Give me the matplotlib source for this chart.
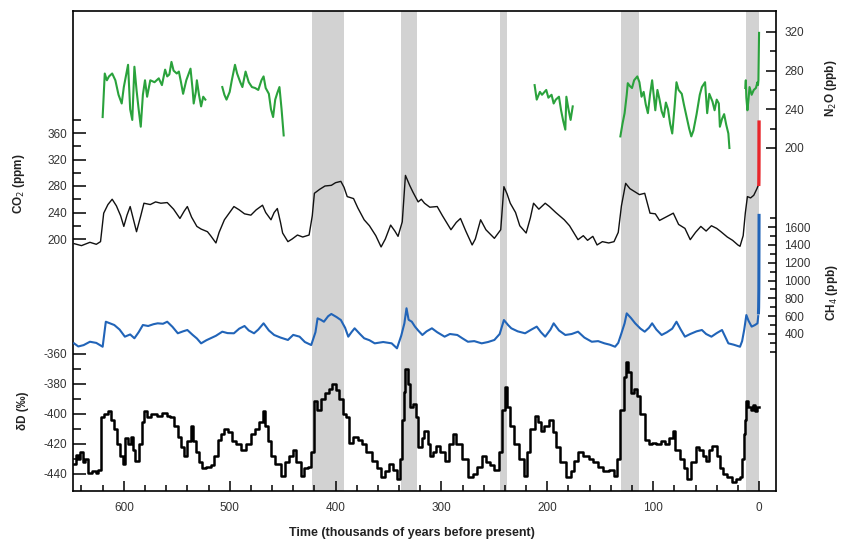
import numpy as np
import matplotlib.pyplot as plt
from matplotlib.ticker import FixedLocator, FixedFormatter, NullFormatter

plt.rcParams['font.family'] = ['Liberation Sans', 'DejaVu Sans']

# Interglacial periods (kyr BP, start/end)
interglacials = [(422, 392), (338, 323), (245, 238), (130, 113), (12.6, 0)]

# CO2 from ice cores (kyr BP, ppm)
co2_age = [647, 640, 632, 626, 622, 619, 615, 611, 607, 603, 600, 597, 594, 591, 588,
           584, 581, 575, 570, 565, 559, 553, 547, 543, 540, 536, 531, 527, 521, 518,
           513, 510, 505, 500, 496, 491, 486, 480, 475, 469, 466, 461, 458, 455, 452,
           450, 445, 441, 436, 431, 425, 422, 420, 415, 410, 404, 400, 395, 392, 389,
           383, 379, 373, 368, 362, 357, 353, 348, 344, 341, 337, 334, 330, 327, 322,
           319, 316, 311, 304, 299, 291, 286, 282, 277, 271, 268, 263, 258, 250, 244,
           241, 238, 235, 230, 226, 220, 216, 213, 208, 202, 198, 192, 184, 179, 171,
           166, 162, 157, 153, 148, 142, 137, 133, 130, 126, 122, 118, 113, 108, 103,
           98, 94, 88, 81, 76, 70, 65, 60, 55, 50, 45, 40, 36, 30, 25,
           20, 18, 15, 13, 11, 8, 5, 2, 1]
co2_ppm = [193, 190, 195, 192, 196, 239, 252, 260, 250, 235, 219, 236, 249, 230, 211,
           235, 254, 252, 256, 254, 255, 245, 231, 242, 249, 233, 219, 215, 211, 205,
           194, 210, 229, 240, 249, 244, 238, 236, 244, 251, 240, 229, 240, 246, 225,
           209, 196, 200, 206, 203, 206, 235, 269, 275, 280, 281, 285, 287, 278, 264,
           261, 247, 229, 220, 205, 188, 200, 221, 212, 204, 226, 296, 281, 271, 256,
           260, 254, 248, 249, 235, 214, 225, 231, 212, 191, 200, 229, 214, 201, 214,
           279, 268, 254, 240, 220, 209, 232, 254, 245, 254, 249, 240, 229, 220, 199,
           205, 198, 204, 191, 196, 194, 196, 210, 250, 284, 276, 272, 267, 269, 239,
           238, 228, 233, 239, 222, 216, 199, 210, 219, 212, 220, 216, 211, 203, 198,
           191, 189, 205, 239, 264, 262, 266, 276, 280]

# Recent CO2 (atmospheric / firn)
co2_recent_age = [0.3, 0.2, 0.12, 0.06, 0.0]
co2_recent_ppm = [280, 285, 300, 330, 379]

# CH4 from ice cores (kyr BP, ppb)
ch4_age = [647, 643, 638, 632, 626, 620, 617, 613, 609, 604, 599, 594, 590, 586, 582,
           577, 572, 568, 563, 559, 554, 549, 544, 540, 535, 531, 527, 522, 518, 513,
           507, 502, 496, 491, 486, 482, 477, 473, 468, 463, 458, 452, 445, 440, 434,
           429, 423, 419, 417, 414, 411, 407, 404, 399, 395, 391, 388, 385, 382, 377,
           373, 368, 363, 355, 347, 342, 338, 335, 333, 331, 328, 325, 322, 318, 314,
           309, 304, 297, 292, 285, 280, 275, 269, 262, 256, 250, 245, 241, 237, 234,
           228, 221, 215, 210, 206, 202, 197, 194, 189, 183, 177, 171, 165, 158, 152,
           146, 141, 136, 133, 130, 127, 125, 121, 117, 112, 108, 104, 101, 97, 92,
           87, 82, 78, 74, 70, 65, 59, 54, 50, 45, 40, 35, 32, 29, 24,
           18, 16, 14, 12, 10, 7, 4, 1.5, 0.8]
ch4_ppb = [295, 260, 275, 313, 300, 257, 538, 520, 501, 450, 370, 395, 352, 420, 501,
           490, 510, 520, 515, 538, 480, 408, 430, 445, 390, 350, 295, 330, 352, 380,
           426, 410, 408, 460, 490, 440, 408, 450, 520, 440, 389, 360, 333, 390, 370,
           310, 276, 420, 576, 560, 538, 600, 625, 590, 557, 470, 370, 420, 464, 400,
           352, 330, 295, 310, 295, 239, 380, 520, 689, 560, 538, 483, 440, 389, 430,
           464, 420, 370, 400, 389, 350, 313, 320, 295, 310, 333, 400, 557, 500, 464,
           430, 408, 450, 483, 420, 370, 450, 520, 440, 389, 400, 426, 360, 313, 320,
           295, 280, 257, 300, 408, 520, 632, 580, 520, 460, 426, 470, 520, 450, 389,
           420, 460, 538, 450, 370, 400, 430, 445, 400, 370, 410, 445, 370, 295, 280,
           257, 320, 450, 613, 550, 483, 500, 520, 600]

ch4_recent_age = [0.6, 0.4, 0.2, 0.1, 0.0]
ch4_recent_ppb = [620, 700, 900, 1300, 1750]

# N2O from ice cores (kyr BP, ppb); gaps where no data
n2o_age = [620, 618, 616, 614, 611, 608, 605, 602, 600, 596, 594, 592, 590, 588, 586,
           584, 582, 580, 578, 575, 571, 567, 564, 561, 559, 557, 555, 553, 550, 548,
           546, 544, 541, 537, 535, 534, 532, 531, 529, 527, 525, 523, np.nan,
           507, 505, 503, 500, 498, 495, 493, 490, 488, 485, 482, 479, 476, 473, 470,
           468, 466, 463, 461, 459, 457, 455, 453, 451, 449, np.nan,
           212, 210, 207, 205, 201, 199, 196, 194, 192, 189, 187, 185, 183, 182, 180,
           178, 176, np.nan,
           131, 129, 127, 125, 124, 122, 120, 118, 115, 113, 111, 109, 107, 105, 103,
           101, 99, 98, 96, 94, 92, 90, 88, 86, 84, 82, 80, 78, 76, 73,
           71, 68, 66, 64, 62, 59, 56, 54, 51, 49, 47, 44, 42, 40, 38,
           37, 35, 33, 31, 29, 28, np.nan,
           13, 12.5, 12, 11, 10, 9, 7, 5, 3, 1.5, 1, 0.6, 0.4, 0.2, 0]
n2o_ppb = [232, 277, 270, 274, 277, 270, 255, 246, 263, 286, 240, 229, 284, 260, 240,
           222, 255, 270, 253, 270, 268, 272, 265, 281, 274, 276, 289, 280, 277, 279,
           268, 256, 270, 282, 260, 246, 258, 270, 255, 243, 253, 250, np.nan,
           263, 255, 250, 258, 270, 286, 277, 268, 263, 279, 268, 263, 262, 260, 270,
           274, 262, 256, 240, 232, 250, 257, 263, 240, 213, np.nan,
           265, 250, 258, 255, 260, 252, 255, 246, 250, 253, 239, 228, 219, 253, 240,
           229, 243, np.nan,
           212, 225, 236, 255, 267, 264, 262, 270, 274, 268, 253, 258, 245, 236, 255,
           270, 250, 239, 260, 250, 238, 232, 247, 240, 225, 215, 240, 268, 260, 256,
           245, 230, 220, 212, 218, 235, 255, 263, 268, 236, 256, 248, 239, 250, 246,
           222, 230, 235, 224, 215, 200, np.nan,
           262, 270, 252, 239, 250, 263, 255, 260, 262, 268, 265, 270, 285, 300, 319]

# Deuterium (kyr BP, per mil)
dd_age = [647, 645, 643, 641, 639, 637, 634, 630, 626, 624, 622, 619, 615, 612, 609,
          606, 604, 601, 599, 596, 593, 591, 589, 586, 583, 581, 578, 574, 569, 564,
          559, 556, 553, 549, 546, 543, 540, 537, 535, 532, 529, 526, 522, 518, 515,
          511, 508, 505, 502, 498, 494, 489, 485, 480, 476, 472, 469, 467, 464, 461,
          457, 452, 448, 444, 440, 437, 433, 430, 426, 423, 420, 418, 414, 410, 406,
          403, 400, 397, 393, 390, 387, 384, 379, 375, 371, 366, 361, 357, 353, 350,
          346, 342, 339, 337, 335, 334, 332, 330, 327, 324, 322, 318, 316, 313, 311,
          308, 305, 301, 297, 293, 289, 286, 281, 275, 270, 266, 262, 258, 254, 250,
          246, 243, 240, 238, 235, 231, 227, 222, 219, 216, 212, 209, 206, 203, 198,
          195, 192, 188, 182, 178, 175, 171, 166, 161, 157, 152, 147, 142, 137, 134,
          131, 128, 126, 124, 121, 118, 115, 112, 108, 104, 101, 97, 93, 89, 85,
          81, 79, 75, 71, 68, 64, 60, 57, 53, 50, 47, 44, 40, 37, 34,
          30, 26, 22, 18, 16, 14, 13, 12, 10, 8, 6, 4, 2, 0]
dd_val = [-433, -427, -430, -425, -432, -430, -439, -438, -439, -437, -402, -400, -398, -404, -410,
          -420, -428, -433, -416, -420, -415, -424, -431, -420, -405, -398, -402, -400, -401, -399,
          -401, -402, -408, -415, -422, -428, -418, -408, -418, -425, -432, -436, -435, -434, -428,
          -417, -413, -410, -412, -418, -420, -424, -420, -413, -410, -405, -398, -408, -418, -428,
          -433, -441, -432, -428, -424, -432, -441, -436, -435, -425, -391, -397, -390, -386, -383,
          -380, -384, -390, -400, -402, -419, -415, -417, -420, -425, -431, -436, -442, -438, -433,
          -437, -443, -430, -404, -385, -370, -380, -395, -393, -402, -422, -416, -411, -420, -428,
          -425, -421, -425, -431, -420, -413, -420, -430, -442, -440, -435, -428, -432, -434, -437,
          -425, -397, -382, -395, -408, -420, -430, -441, -425, -410, -401, -405, -411, -408, -404,
          -412, -422, -432, -442, -438, -431, -425, -428, -430, -432, -435, -438, -437, -441, -430,
          -397, -375, -365, -372, -386, -383, -388, -400, -417, -420, -419, -420, -418, -420, -416,
          -411, -424, -430, -436, -443, -432, -422, -424, -428, -431, -424, -421, -428, -436, -440,
          -442, -445, -443, -442, -430, -413, -404, -391, -395, -397, -394, -398, -395, -395]

# Figure geometry in pixels
W, H = 848, 552
ax_left, ax_right, ax_top, ax_bottom = 73, 776, 11, 491


def fx(px):
    return px / W


def fy(py):
    return 1 - py / H


def ylim_for(v_ref, y_ref, px_per_unit):
    # value range that puts v_ref at pixel row y_ref with given scale
    lo = v_ref - (ax_bottom - y_ref) / px_per_unit
    hi = v_ref + (y_ref - ax_top) / px_per_unit
    return lo, hi


fig = plt.figure(figsize=(W / 100, H / 100), dpi=100)
pos = [fx(ax_left), fy(ax_bottom), fx(ax_right - ax_left), (ax_bottom - ax_top) / H]

ax = fig.add_axes(pos)
ax.set_xlim(648, -16)
ax.set_ylim(0, 1)
ax.set_yticks([])
for s in ax.spines.values():
    s.set_linewidth(1.2)
for a, b in interglacials:
    ax.axvspan(a, b, color='#d2d2d2', lw=0, zorder=0)
ax.xaxis.set_major_locator(FixedLocator(np.arange(0, 601, 100)))
ax.xaxis.set_minor_locator(FixedLocator(np.arange(0, 641, 20)))
ax.tick_params(axis='x', which='major', direction='in', length=7, width=1.1,
               labelsize=8.5, pad=8, labelcolor='#333333')
ax.tick_params(axis='x', which='minor', direction='in', length=4.5, width=1.1)


def overlay(side, lim, major, minor, labels, maj_len, min_len, pad):
    o = fig.add_axes(pos, sharex=ax)
    o.patch.set_visible(False)
    for s in o.spines.values():
        s.set_visible(False)
    o.xaxis.set_visible(False)
    o.set_ylim(*lim)
    o.yaxis.set_ticks_position(side)
    o.yaxis.set_major_locator(FixedLocator(major))
    o.yaxis.set_major_formatter(FixedFormatter(labels))
    o.yaxis.set_minor_locator(FixedLocator(minor))
    o.yaxis.set_minor_formatter(NullFormatter())
    o.tick_params(axis='y', which='major', direction='in', length=maj_len, width=1.1,
                  labelsize=8.5, pad=pad, labelcolor='#333333')
    o.tick_params(axis='y', which='minor', direction='in', length=min_len, width=1.1)
    return o


co2_ticks = [200, 240, 280, 320, 360]
ax_co2 = overlay('left', ylim_for(200, 239, 26.5 / 40), co2_ticks,
                 [220, 260, 300, 340, 380], [str(t) for t in co2_ticks], 9, 6, 4)
ax_co2.plot(co2_age, co2_ppm, color='#111111', lw=1.0)
ax_co2.plot(co2_recent_age, co2_recent_ppm, color='#e8262b', lw=2.4, solid_capstyle='butt')

dd_ticks = [-440, -420, -400, -380, -360]
ax_dd = overlay('left', ylim_for(-440, 474, 30 / 20), dd_ticks,
                [-430, -410, -390, -370], [str(t) for t in dd_ticks], 9, 6, 4)
ax_dd.plot(dd_age, dd_val, color='black', lw=1.8, drawstyle='steps-post')

n2o_ticks = [200, 240, 280, 320]
ax_n2o = overlay('right', ylim_for(200, 148, 38.7 / 40), n2o_ticks,
                 [220, 260, 300], [str(t) for t in n2o_ticks], 7, 4.5, 6)
ax_n2o.plot(n2o_age, n2o_ppb, color='#2aa23c', lw=1.5)

ch4_ticks = list(range(400, 1601, 200))
ax_ch4 = overlay('right', ylim_for(400, 334, 17.8 / 200), ch4_ticks,
                 [200, 300, 500, 700, 900, 1100, 1300, 1500, 1700],
                 [str(t) for t in ch4_ticks], 6, 4.5, 6)
ax_ch4.plot(ch4_age, ch4_ppb, color='#2164b8', lw=1.5)
ax_ch4.plot(ch4_recent_age, ch4_recent_ppb, color='#2164b8', lw=2.2, solid_capstyle='butt')

lab = dict(rotation=90, ha='center', va='center', fontsize=8.5, fontweight='bold',
           color='#222222')
fig.text(fx(19), fy(184), 'CO$_2$ (ppm)', **lab)
fig.text(fx(23), fy(411), 'δD (‰)', **lab)
fig.text(fx(831), fy(88), 'N$_2$O (ppb)', **lab)
fig.text(fx(832), fy(293), 'CH$_4$ (ppb)', **lab)
fig.text(fx(412), fy(533), 'Time (thousands of years before present)', ha='center',
         va='center', fontsize=9, fontweight='bold', color='#222222')

fig.savefig('out.png', dpi=100)
